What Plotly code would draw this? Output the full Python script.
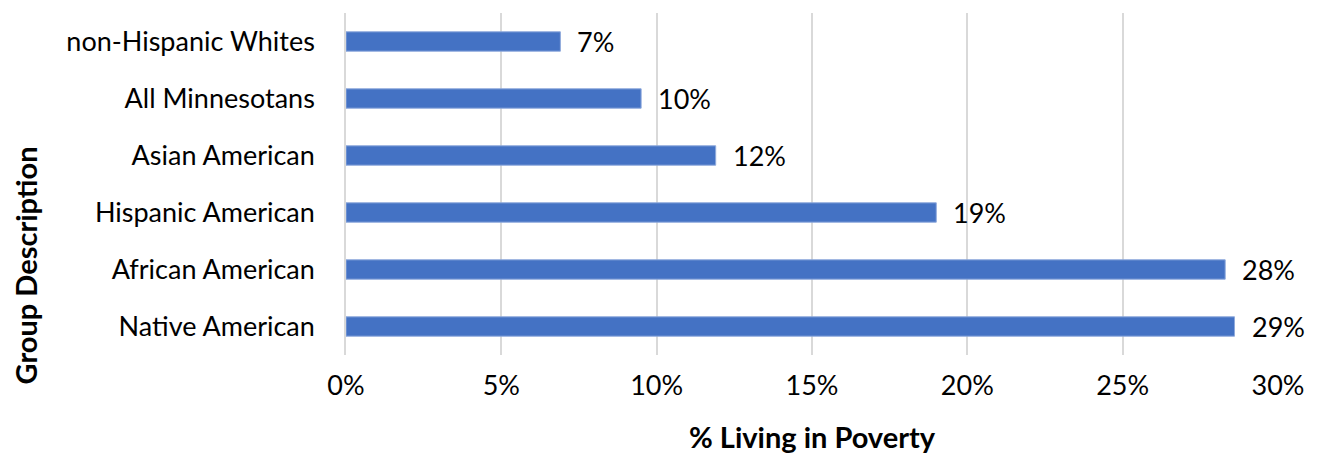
import plotly.graph_objects as go

groups = [
    "Native American",
    "African American",
    "Hispanic American",
    "Asian American",
    "All Minnesotans",
    "non-Hispanic Whites",
]
poverty_pct = [28.6, 28.3, 19.0, 11.9, 9.5, 6.9]
x_ticks = [0, 5, 10, 15, 20, 25, 30]
x_tick_labels = [f"{t}%" for t in x_ticks]

FONT = "Lato"
BLUE = "#4472C4"

fig = go.Figure()
fig.add_trace(go.Bar(
    y=groups,
    x=poverty_pct,
    orientation="h",
    marker=dict(color=BLUE, line=dict(color="#8faadc", width=1)),
    showlegend=False,
))

# value labels to the right of each bar
for g, v in zip(groups, poverty_pct):
    fig.add_annotation(
        x=v, y=g, text=f"{round(v)}%", showarrow=False,
        xanchor="left", xshift=15,
        font=dict(family=FONT, size=27, color="black"),
    )

fig.add_annotation(
    text="<b>Group Description</b>", textangle=-90,
    xref="paper", yref="paper", x=-0.344, y=0.263,
    xanchor="center", yanchor="middle", showarrow=False,
    font=dict(family=FONT, size=29, color="black"),
)
fig.add_annotation(
    text="<b>% Living in Poverty</b>",
    xref="paper", yref="paper", x=0.5, y=-0.238,
    xanchor="center", yanchor="middle", showarrow=False,
    borderpad=0,
    font=dict(family=FONT, size=29, color="black"),
)

fig.update_xaxes(
    range=[0, 30],
    tickvals=x_ticks,
    ticktext=x_tick_labels,
    showgrid=True,
    gridcolor="#D9D9D9",
    gridwidth=1.5,
    zeroline=False,
    showline=False,
    automargin=False,
    ticklabelstandoff=12,
    tickfont=dict(family=FONT, size=27, color="black"),
)
fig.update_yaxes(
    showgrid=False,
    showline=True,
    linecolor="#D9D9D9",
    linewidth=1.5,
    automargin=False,
    ticklabelstandoff=24,
    tickfont=dict(family=FONT, size=27, color="black"),
)

# page body has an 8px margin, so the figure is a bit smaller than the window
fig.update_layout(
    width=1311,
    height=448,
    bargap=0.66,
    margin=dict(l=338, r=41, t=5, b=101),
    plot_bgcolor="white",
    paper_bgcolor="white",
)

fig.write_html("out.html")
